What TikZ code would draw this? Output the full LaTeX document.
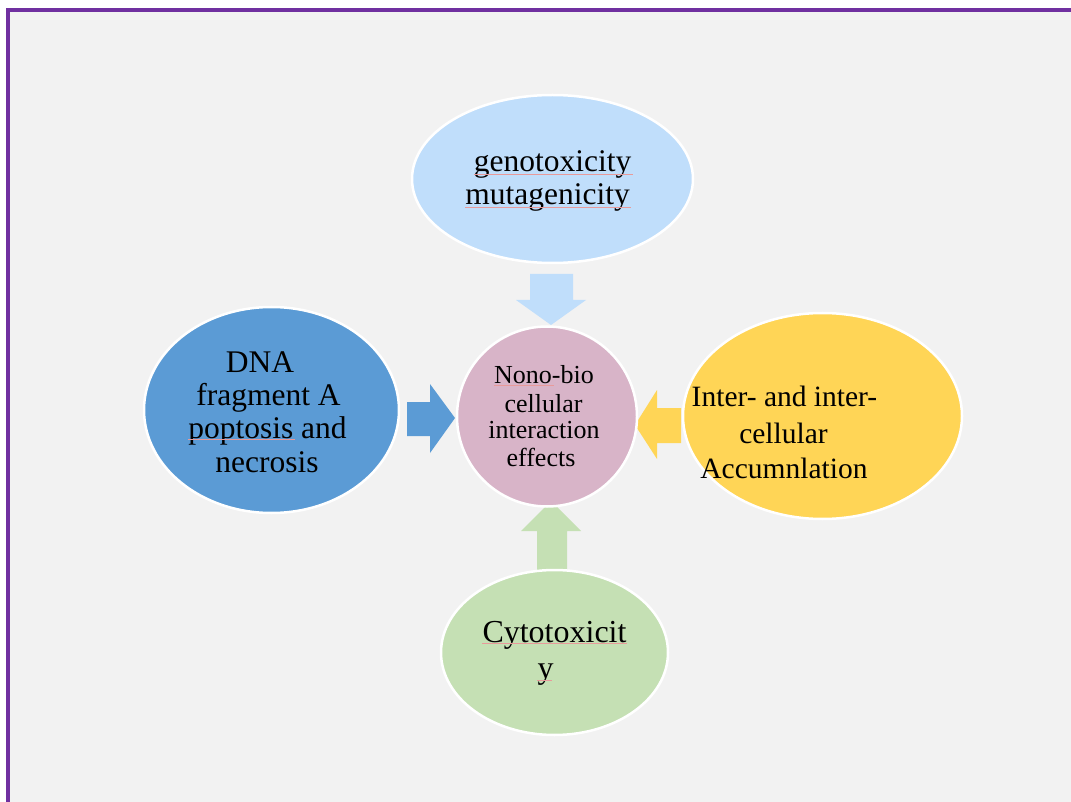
\documentclass[tikz,border=0pt]{standalone}
\usepackage{fontspec}
\setmainfont{Liberation Serif}
\usetikzlibrary{shapes.geometric}
\definecolor{bgc}{HTML}{F2F2F2}
\definecolor{framec}{HTML}{7030A0}
\definecolor{topc}{HTML}{C0DEFB}
\definecolor{leftc}{HTML}{5B9BD5}
\definecolor{midc}{HTML}{D8B4C8}
\definecolor{rightc}{HTML}{FFD556}
\definecolor{botc}{HTML}{C5E0B4}
\definecolor{spellc}{HTML}{E89A9A}
\tikzset{
  blob/.style={ellipse, draw=white, line width=2.5pt, inner sep=0pt},
  txt/.style={anchor=base, inner sep=0pt, text=black},
  spell/.style={draw=spellc, line width=0.8pt},
}
\begin{document}
\begin{tikzpicture}[x=1pt, y=-1pt]
\useasboundingbox (0,0) rectangle (1071,802);
% background and frame
\fill[bgc] (6,8) rectangle (1071,802);
\fill[framec] (6,8) rectangle (10,802);
\fill[framec] (6,8) rectangle (1071,12);
% block arrows
\fill[topc] (530,274) -- (573,274) -- (573,300) -- (586,300) -- (551,325) -- (516,300) -- (530,300) -- cycle;
\fill[leftc] (407,402) -- (430,402) -- (430,384) -- (455,418) -- (430,453) -- (430,436) -- (407,436) -- cycle;
\fill[rightc] (681,408) -- (657,408) -- (657,390) -- (635,425) -- (657,459) -- (657,443) -- (681,443) -- cycle;
\fill[botc] (537,575) -- (537,531) -- (521,531) -- (551,501) -- (581,531) -- (567,531) -- (567,575) -- cycle;
% shapes
\node[blob, fill=topc, minimum width=281pt, minimum height=168pt] (top) at (552.5,179) {};
\node[blob, fill=leftc, minimum width=255pt, minimum height=206pt] (left) at (271.5,410) {};
\node[blob, fill=rightc, minimum width=279pt, minimum height=206pt] (right) at (822.5,416) {};
\node[blob, fill=botc, minimum width=227pt, minimum height=165pt] (bot) at (554.5,652.5) {};
\node[blob, circle, fill=midc, minimum size=180pt] (mid) at (547,416.5) {};
% texts
\begin{scope}[every node/.append style={font=\fontsize{31.5}{33}\selectfont}]
\node[txt] (t1) at (552.5,172) {genotoxicity};
\node[txt] (t2) at (547.5,205) {mutagenicity};
\node[txt] (l1) at (260,372) {DNA};
\node[txt] (l2) at (268.5,405) {fragment A};
\node[txt] (l3) at (267.5,438) {poptosis and};
\node[txt] (l4) at (267,472) {necrosis};
\end{scope}
\begin{scope}[every node/.append style={font=\fontsize{26}{28}\selectfont}]
\node[txt] (m1) at (544,383) {Nono-bio};
\node[txt] (m2) at (543.5,412) {cellular};
\node[txt] (m3) at (544,438) {interaction};
\node[txt] (m4) at (541,466) {effects};
\end{scope}
\begin{scope}[every node/.append style={font=\fontsize{29.5}{36}\selectfont}]
\node[txt] (r1) at (784.5,406) {Inter- and inter-};
\node[txt] (r2) at (783.5,443) {cellular};
\node[txt] (r3) at (784,478) {Accumnlation};
\end{scope}
\begin{scope}[every node/.append style={font=\fontsize{32}{36}\selectfont}]
\node[txt] (b1) at (554.5,642) {Cytotoxicit};
\node[txt] (b2) at (545.5,678) {y};
\end{scope}
% spell-check underlines
\draw[spell] (t1.base west) ++(0,2) -- ++(159,0);
\draw[spell] (t2.base west) ++(0,2) -- ++(166,0);
\draw[spell] (m1.base west) ++(0,2) -- ++(60,0);
\draw[spell] (l3.base west) ++(0,1.5) -- ++(107,0);
\draw[spell] (b1.base west) ++(0,1.5) -- ++(145,0);
\draw[spell] (b2.base west) ++(0,2.5) -- ++(15,0);
\end{tikzpicture}
\end{document}
